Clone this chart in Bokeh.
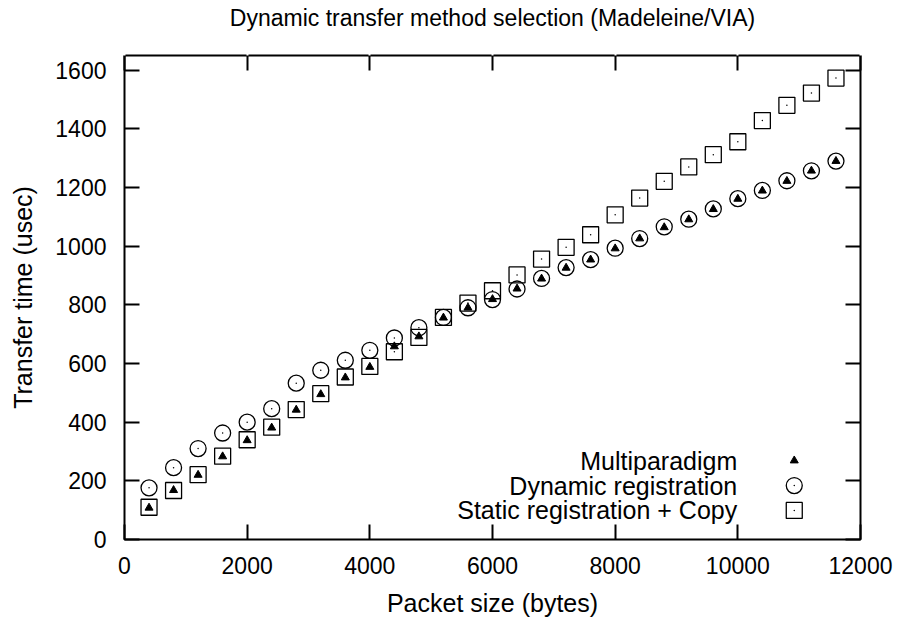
from bokeh.plotting import figure
from bokeh.models import Range1d, LinearAxis, FixedTicker
from bokeh.core.properties import value
from bokeh.embed import file_html
from bokeh.resources import INLINE

# ---------------- data ----------------
title_text = "Dynamic transfer method selection (Madeleine/VIA)"
x_label = "Packet size (bytes)"
y_label = "Transfer time (usec)"
series_names = ["Multiparadigm", "Dynamic registration", "Static registration + Copy"]

packet_size = [400, 800, 1200, 1600, 2000, 2400, 2800, 3200, 3600, 4000,
               4400, 4800, 5200, 5600, 6000, 6400, 6800, 7200, 7600, 8000,
               8400, 8800, 9200, 9600, 10000, 10400, 10800, 11200, 11600]

multiparadigm = [108, 168, 220, 283, 338, 381, 442, 495, 552, 588,
                 658, 692, 756, 790, 819, 855, 889, 926, 954, 992,
                 1026, 1064, 1091, 1126, 1161, 1189, 1222, 1257, 1290]

dynamic_reg = [176, 245, 310, 363, 400, 446, 533, 577, 611, 645,
               687, 722, 757, 790, 818, 854, 890, 927, 954, 993,
               1026, 1066, 1092, 1127, 1162, 1190, 1223, 1257, 1290]

static_copy = [110, 167, 221, 284, 340, 383, 443, 497, 554, 590,
               640, 689, 757, 806, 848, 902, 956, 996, 1039, 1107,
               1164, 1221, 1270, 1312, 1356, 1428, 1480, 1522, 1573]

x_ticks = [0, 2000, 4000, 6000, 8000, 10000, 12000]
y_ticks = [0, 200, 400, 600, 800, 1000, 1200, 1400, 1600]

# legend layout (data-space anchor positions)
legend_text_x = 9990
legend_mark_x = 10920
legend_rows_y = [269, 184, 99]

FONT = "Liberation Sans"

p = figure(frame_width=736, frame_height=484,
           x_range=Range1d(0, 12000), y_range=Range1d(0, 1650),
           output_backend="svg", toolbar_location=None,
           min_border_left=124, min_border_right=35,
           min_border_top=55, min_border_bottom=65,
           title=title_text)

p.background_fill_color = "white"
p.border_fill_color = "white"
p.grid.visible = False
p.outline_line_color = "black"
p.outline_line_width = 2

p.title.text_font = FONT
p.title.text_font_size = "23px"
p.title.text_font_style = "normal"
p.title.align = "center"
p.title.text_color = "black"
p.title.standoff = 0


def style_axis(ax, ticks, show_labels):
    ax.ticker = FixedTicker(ticks=ticks)
    ax.major_tick_in = 15
    ax.major_tick_out = 0
    ax.minor_tick_line_color = None
    ax.major_tick_line_width = 2
    ax.major_tick_line_color = "black"
    ax.axis_line_color = None
    if show_labels:
        ax.major_label_text_font = FONT
        ax.major_label_text_font_size = "23px"
        ax.major_label_text_color = "black"
    else:
        # mirrored ticks only: labels are not drawn
        ax.major_label_text_font_size = "1px"
        ax.major_label_text_color = None
        ax.major_label_standoff = 0


xb = p.xaxis[0]
yl = p.yaxis[0]
style_axis(xb, x_ticks, True)
style_axis(yl, y_ticks, True)
xb.major_label_standoff = 17
yl.major_label_standoff = 18
for ax, lab, so in [(xb, x_label, 12), (yl, y_label, 15)]:
    ax.axis_label = lab
    ax.axis_label_text_font = FONT
    ax.axis_label_text_font_size = "25px"
    ax.axis_label_text_font_style = "normal"
    ax.axis_label_text_color = "black"
    ax.axis_label_standoff = so

# mirrored ticks on top and right
xt = LinearAxis()
style_axis(xt, x_ticks, False)
p.add_layout(xt, "above")
yr = LinearAxis()
style_axis(yr, y_ticks, False)
p.add_layout(yr, "right")

# invisible spacer between the frame and the title (white outward ticks)
spacer = LinearAxis()
style_axis(spacer, x_ticks, False)
spacer.major_tick_in = 0
spacer.major_tick_out = 25
spacer.major_tick_line_color = "white"
p.add_layout(spacer, "above")

# ---------------- series ----------------
p.scatter(packet_size, multiparadigm, marker="triangle", size=8,
          fill_color="black", line_color="black", line_width=1)
p.scatter(packet_size, dynamic_reg, marker="circle", size=16,
          fill_color=None, line_color="black", line_width=1.3)
p.scatter(packet_size, dynamic_reg, marker="dot", size=6,
          fill_color="black", line_color="black")
p.scatter(packet_size, static_copy, marker="square", size=16,
          fill_color=None, line_color="black", line_width=1.3)
p.scatter(packet_size, static_copy, marker="dot", size=6,
          fill_color="black", line_color="black")

# ---------------- legend (gnuplot style: text right-aligned, key on the right) ----------------
p.text(x=[legend_text_x] * 3, y=legend_rows_y, text=series_names,
       text_align="right", text_baseline="middle",
       text_font=value(FONT), text_font_size=value("25px"), text_color="black")
p.scatter([legend_mark_x], [legend_rows_y[0]], marker="triangle", size=8,
          fill_color="black", line_color="black", line_width=1)
p.scatter([legend_mark_x], [legend_rows_y[1]], marker="circle", size=16,
          fill_color=None, line_color="black", line_width=1.3)
p.scatter([legend_mark_x], [legend_rows_y[1]], marker="dot", size=6,
          fill_color="black", line_color="black")
p.scatter([legend_mark_x], [legend_rows_y[2]], marker="square", size=16,
          fill_color=None, line_color="black", line_width=1.3)
p.scatter([legend_mark_x], [legend_rows_y[2]], marker="dot", size=6,
          fill_color="black", line_color="black")

open("out.html", "w").write(file_html(p, INLINE))
